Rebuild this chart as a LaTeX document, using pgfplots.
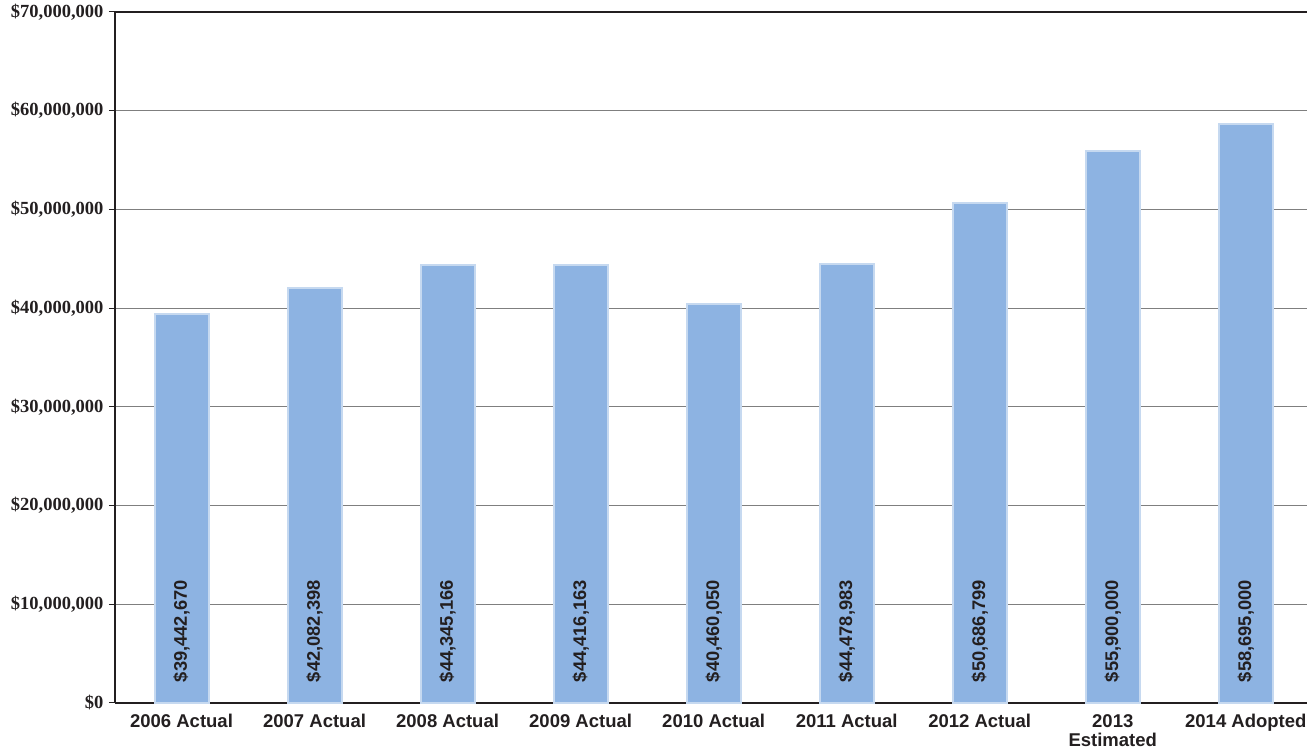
\documentclass[border=0pt]{standalone}
\usepackage{pgfplots}
\pgfplotsset{compat=1.18}
\usepackage{fontspec}
\setmainfont{Liberation Serif}
\newfontfamily\arialfont{Liberation Sans}

\definecolor{barfill}{HTML}{8DB3E2}
\definecolor{barline}{HTML}{C6D9F0}
\definecolor{axisdark}{HTML}{231F20}
\definecolor{gridgray}{HTML}{7F7F7F}

% plots above the axis lines, so the bars cover the baseline
\pgfplotsset{
  layers/bars over axis/.define layer set={
    axis background,axis grid,axis ticks,axis lines,axis tick labels,
    pre main,main,axis descriptions,axis foreground
  }{},
}

\begin{document}
\begin{tikzpicture}
\begin{axis}[
  name=ax,
  set layers=bars over axis,
  scale only axis,
  width=1192pt, height=691pt,
  xmin=-0.5, xmax=8.46,
  ymin=0, ymax=70000000,
  axis x line*=bottom,
  axis y line*=left,
  axis line style={axisdark, line width=2.2pt},
  tick align=outside,
  xtick={0,1,2,3,4,5,6,7,8},
  xticklabels={2006 Actual,2007 Actual,2008 Actual,2009 Actual,2010 Actual,2011 Actual,2012 Actual,{2013\\Estimated},2014 Adopted},
  x tick label style={font=\arialfont\bfseries\fontsize{18.5}{19}\selectfont, text=axisdark, align=center, yshift=-2pt},
  major x tick style={draw=none},
  extra x ticks={-0.5,0.5,1.5,2.5,3.5,4.5,5.5,6.5,7.5},
  extra x tick labels={},
  extra x tick style={major tick length=8pt, tick style={axisdark, line width=1pt}, grid=none},
  ytick={0,10000000,20000000,30000000,40000000,50000000,60000000,70000000},
  yticklabels={{\$0},{\$10,000,000},{\$20,000,000},{\$30,000,000},{\$40,000,000},{\$50,000,000},{\$60,000,000},{\$70,000,000}},
  y tick label style={font=\bfseries\fontsize{18.5}{19}\selectfont, text=axisdark, inner ysep=0pt, xshift=-2pt},
  major y tick style={axisdark, line width=1pt},
  major tick length=6pt,
  ymajorgrids,
  major grid style={gridgray, line width=0.9pt},
  clip=false,
]
% annual totals
\addplot[ybar, bar width=54pt, fill=barfill, draw=barline, line width=2pt] coordinates {
  (0,39442670) (1,42082398) (2,44345166) (3,44416163) (4,40460050)
  (5,44478983) (6,50686799) (7,55900000) (8,58695000)
};
% value labels set upright inside each bar
\addplot[draw=none, mark=none, nodes near coords, point meta=explicit symbolic,
  nodes near coords style={rotate=90, anchor=west, inner sep=0pt,
    font=\arialfont\bfseries\fontsize{18.3}{18}\selectfont, text=axisdark}]
  table[meta=label] {
x y label
0 2100000 {\$39,442,670}
1 2100000 {\$42,082,398}
2 2100000 {\$44,345,166}
3 2100000 {\$44,416,163}
4 2100000 {\$40,460,050}
5 2100000 {\$44,478,983}
6 2100000 {\$50,686,799}
7 2100000 {\$55,900,000}
8 2100000 {\$58,695,000}
};
% top frame line
\draw[axisdark, line width=2.2pt] (rel axis cs:0,1) -- (rel axis cs:1,1);
\end{axis}
\pgfresetboundingbox
\path[use as bounding box] ([xshift=-115pt,yshift=-52pt]ax.south west) rectangle ([yshift=12pt]ax.north east);
\end{tikzpicture}
\end{document}
